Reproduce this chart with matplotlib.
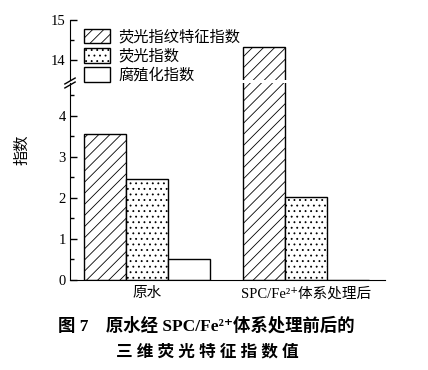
import matplotlib
matplotlib.use('Agg')
import matplotlib.pyplot as plt
import numpy as np

plt.rcParams['font.family'] = ['Liberation Serif', 'Noto Sans CJK SC', 'DejaVu Sans']
plt.rcParams['hatch.linewidth'] = 0.6

categories = ['原水', 'SPC/Fe²⁺体系处理后']
series_names = ['荧光指纹特征指数', '荧光指数', '腐殖化指数']
fp_index = [3.55, 14.33]     # 荧光指纹特征指数
fl_index = [2.46, 2.02]      # 荧光指数
hix_index = [0.5, 0.0]       # 腐殖化指数
hatches = ['///', '...', '']

fig = plt.figure(figsize=(4.28, 3.70), dpi=100)
left, right = 70 / 428, 385 / 428
ax_lo = fig.add_axes([left, 1 - 280 / 370, right - left, (280 - 83) / 370])
ax_hi = fig.add_axes([left, 1 - 80 / 370, right - left, 60 / 370])

x = np.arange(len(categories))
w = 0.264
bars = []
for ax in (ax_lo, ax_hi):
    for k, vals in enumerate([fp_index, fl_index, hix_index]):
        b = ax.bar(x + (k - 1) * w, vals, w, color='white', edgecolor='black',
                   linewidth=1.0, hatch=hatches[k], label=series_names[k])
        if ax is ax_hi:
            bars.append(b)
    ax.set_xlim(-0.484, 1.497)
    for s in ('top', 'right'):
        ax.spines[s].set_visible(False)
    ax.tick_params(axis='y', direction='in', length=5, width=1, labelsize=10.5, pad=3)
    ax.tick_params(axis='y', which='minor', direction='in', length=3, width=1)

ax_lo.set_ylim(0, 4.8)
ax_lo.set_yticks([0, 1, 2, 3, 4])
ax_lo.set_yticks([0.5, 1.5, 2.5, 3.5, 4.5], minor=True)
ax_lo.set_xticks(x)
ax_lo.set_xticklabels(categories, fontsize=10.5)
ax_lo.tick_params(axis='x', length=0, pad=5)

ax_hi.set_ylim(13.5, 15)
ax_hi.set_yticks([14, 15])
ax_hi.set_yticks([14.5], minor=True)
ax_hi.spines['bottom'].set_visible(False)
ax_hi.set_xticks([])

# break marks on the y axis
for yy in (81 / 370, 85 / 370):
    fig.add_artist(plt.Line2D([left - 0.012, left + 0.012], [1 - yy - 0.008, 1 - yy + 0.008],
                              color='black', lw=1))

fig.legend(handles=bars, labels=series_names, loc='upper left',
           bbox_to_anchor=(73 / 428, 1 - 18 / 370), frameon=False, fontsize=11,
           handlelength=1.7, handleheight=1.1, labelspacing=0.25, handletextpad=0.6,
           borderpad=0.2)

fig.text(22 / 428, 1 - 150 / 370, '指数', rotation=90, ha='center', va='center', fontsize=11)
fig.text(206 / 428, 1 - 326 / 370, '图 7    原水经 SPC/Fe²⁺体系处理前后的',
         ha='center', va='center', fontsize=12.5, fontweight='bold')
fig.text(207 / 428, 1 - 352 / 370, '三 维 荧 光 特 征 指 数 值', ha='center', va='center',
         fontsize=12, fontweight='bold')

fig.savefig('out.png', dpi=100)
